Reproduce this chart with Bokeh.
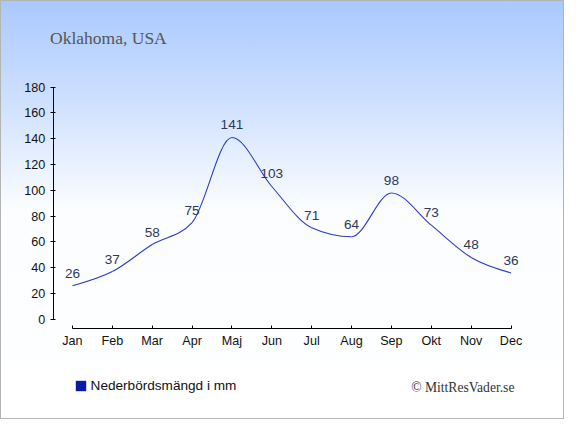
import numpy as np
from bokeh.plotting import figure
from bokeh.models import (LinearAxis, FixedTicker, Range1d, Label, Legend, LegendItem,
                          ColumnDataSource)
from bokeh.core.properties import value
from bokeh.embed import file_html
from bokeh.resources import INLINE

# ---- data ----
months = ["Jan", "Feb", "Mar", "Apr", "Maj", "Jun", "Jul", "Aug", "Sep", "Okt", "Nov", "Dec"]
precip = [26, 37, 58, 75, 141, 103, 71, 64, 98, 73, 48, 36]
y_ticks = [0, 20, 40, 60, 80, 100, 120, 140, 160, 180]
title_text = "Oklahoma, USA"
legend_text = "Nederbördsmängd i mm"
credit_text = "© MittResVader.se"

W, H = 564, 419
RX, RY = W / 580, H / 435
def fx(r):  # reference px -> figure px
    return r * RX
def fy(r):
    return r * RY

# pixel anchors of the layout (reference picture coordinates)
jan_px, dec_px = 74, 525
zero_py, top_py = 331, 90
xstep = (fx(dec_px) - fx(jan_px)) / 11
ystep = (fy(zero_py) - fy(top_py)) / 180
def xd(px):  # figure px -> data x
    return (px - fx(jan_px)) / xstep
def yd(py):  # figure px -> data y
    return (fy(zero_py) - py) / ystep

p = figure(width=W, height=H, output_backend="svg", toolbar_location=None,
           x_range=Range1d(xd(0), xd(W)), y_range=Range1d(yd(H), yd(0)),
           x_axis_type=None, y_axis_type=None,
           min_border_left=0, min_border_right=0, min_border_top=0, min_border_bottom=0)
p.grid.visible = False
p.outline_line_color = None
p.background_fill_alpha = 0
p.border_fill_alpha = 0
p.styles = {"background": "linear-gradient(to bottom, #a8c9fe 0%, #d0e1fe 25%, #fbfdff 50%, #ffffff 100%)",
            "outline": "1px solid #b4b4b4", "outline-offset": "-1px"}

# ---- axes ----
tick_font = "12.6px"
ya = LinearAxis(ticker=FixedTicker(ticks=y_ticks), bounds=(0, 180),
                fixed_location=xd(fx(54.3)))
ya.major_tick_out = 3
ya.major_tick_in = 2
ya.minor_tick_line_color = None
ya.axis_line_color = "#000000"
ya.major_tick_line_color = "#000000"
ya.major_label_text_font = "Liberation Sans"
ya.major_label_text_font_size = tick_font
ya.major_label_text_color = "#111111"
ya.major_label_standoff = 5
p.add_layout(ya, "left")

xs = list(range(len(months)))
xa = LinearAxis(ticker=FixedTicker(ticks=xs), bounds=(0, len(months) - 1),
                fixed_location=yd(fy(341)))
xa.major_label_overrides = {i: m for i, m in enumerate(months)}
xa.major_tick_out = 0
xa.major_tick_in = 3
xa.minor_tick_line_color = None
xa.axis_line_color = "#000000"
xa.major_tick_line_color = "#000000"
xa.major_label_text_font = "Liberation Sans"
xa.major_label_text_font_size = tick_font
xa.major_label_text_color = "#111111"
xa.major_label_standoff = 5
p.add_layout(xa, "below")

# ---- smooth monotone curve (bezier segments through the data points) ----
yv = np.array(precip, dtype=float)
n = len(yv)
s = np.diff(yv)
m = np.zeros(n)
for i in range(1, n - 1):
    a, b = s[i - 1], s[i]
    if a * b <= 0:
        m[i] = 0.0
    else:
        m[i] = (np.sign(a) + np.sign(b)) * min(abs(a), abs(b), 0.5 * abs((a + b) / 2))
m[0] = (3 * s[0] - m[1]) / 2
m[-1] = (3 * s[-1] - m[-2]) / 2
seg = ColumnDataSource(dict(
    x0=xs[:-1], y0=yv[:-1], x1=xs[1:], y1=yv[1:],
    cx0=[i + 1 / 3 for i in xs[:-1]], cy0=yv[:-1] + m[:-1] / 3,
    cx1=[i + 1 - 1 / 3 for i in xs[:-1]], cy1=yv[1:] - m[1:] / 3,
))
p.bezier(x0="x0", y0="y0", x1="x1", y1="y1", cx0="cx0", cy0="cy0", cx1="cx1", cy1="cy1",
         source=seg, line_color="#2c3cc8", line_width=1.1)

# ---- value labels ----
p.text(x=xs, y=precip, text=[str(v) for v in precip], text_align="center",
       text_baseline="middle", y_offset=-12.5, text_font=value("Liberation Sans"),
       text_font_size="13.6px", text_color="#2b3a57")

# ---- title & credit ----
p.add_layout(Label(x=xd(fx(51)), y=yd(fy(39)), text=title_text, text_font="Liberation Serif",
                   text_font_size="17.5px", text_color="#555555", text_baseline="alphabetic",
                   text_align="left"))
p.add_layout(Label(x=xd(fx(528.5)), y=yd(fy(401.7)), text=credit_text, text_font="Liberation Serif",
                   text_font_size="13.6px", text_color="#333333", text_baseline="alphabetic",
                   text_align="right"))

# ---- legend (swatch renderer has no visible data) ----
r = p.quad(left=[np.nan], right=[np.nan], top=[np.nan], bottom=[np.nan],
           fill_color="#0a1aa6", line_color=None)
leg = Legend(items=[LegendItem(label=legend_text, renderers=[r])],
             location=(fx(77) - 1.3, 26.5), orientation="horizontal")
leg.background_fill_alpha = 0
leg.border_line_color = None
leg.padding = 0
leg.margin = 0
leg.glyph_width = 13
leg.glyph_height = 13
leg.label_standoff = 4
leg.label_text_font = "Liberation Sans"
leg.label_text_font_size = "13.6px"
leg.label_text_color = "#111111"
p.add_layout(leg, "center")

open("out.html", "w").write(file_html(p, INLINE))
